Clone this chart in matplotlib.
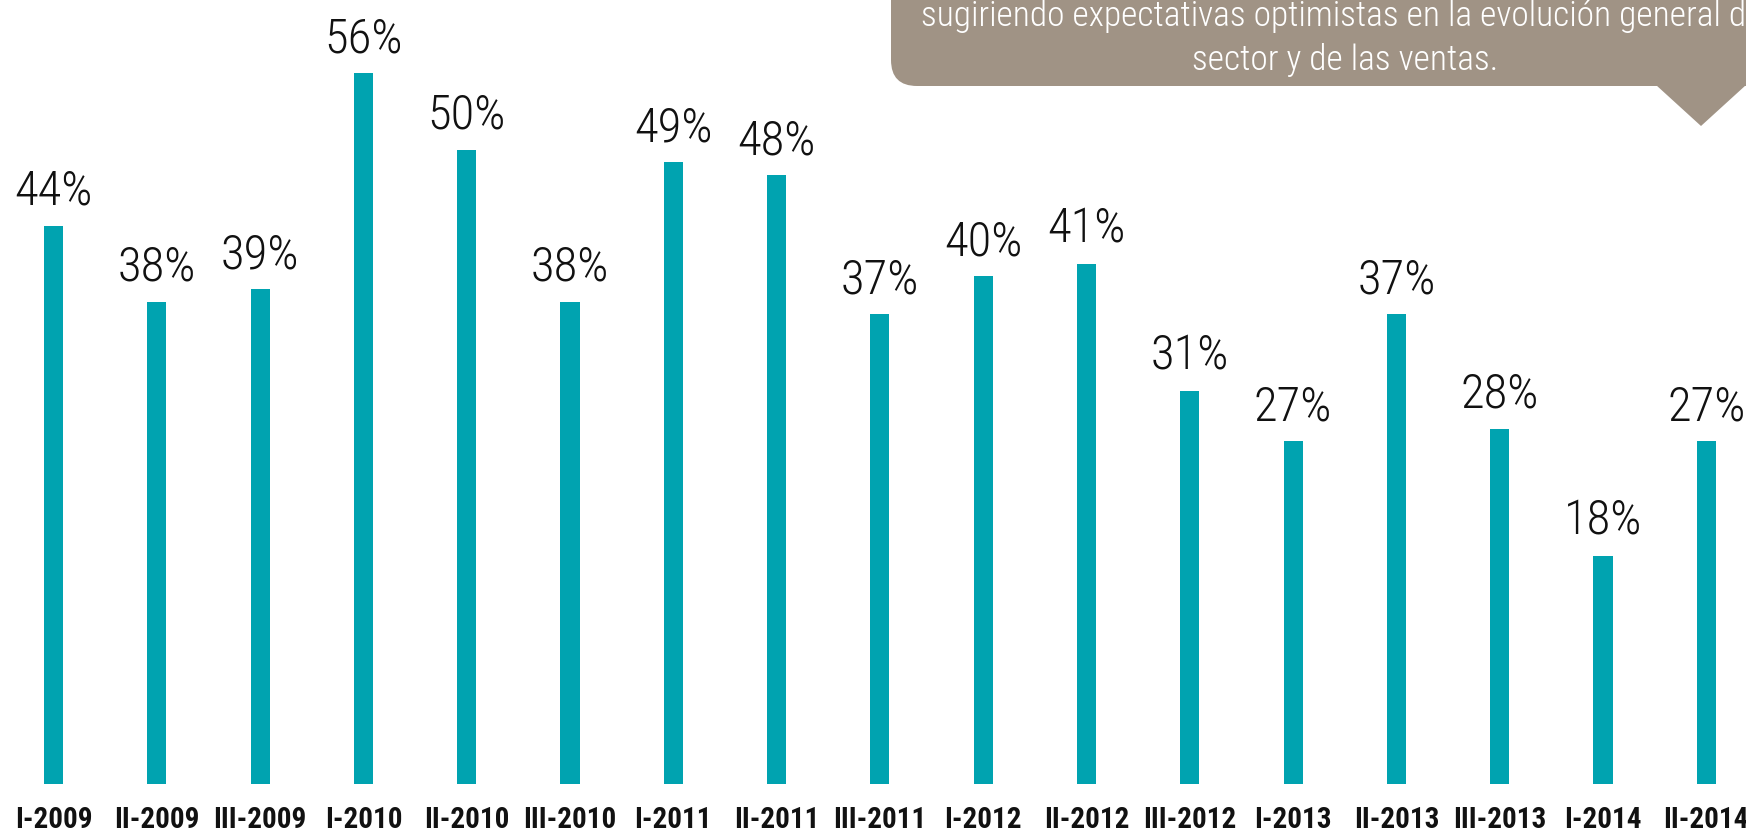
import matplotlib
matplotlib.use("Agg")
import matplotlib.pyplot as plt
from matplotlib.patches import FancyBboxPatch, Polygon
from matplotlib.transforms import IdentityTransform

# data
periods = ["I-2009", "II-2009", "III-2009", "I-2010", "II-2010", "III-2010",
           "I-2011", "II-2011", "III-2011", "I-2012", "II-2012", "III-2012",
           "I-2013", "II-2013", "III-2013", "I-2014", "II-2014"]
values = [44, 38, 39, 56, 50, 38, 49, 48, 37, 40, 41, 31, 27, 37, 28, 18, 27]
callout_lines = ["sugiriendo expectativas optimistas en la evolución general del",
                 "sector y de las ventas."]

plt.rcParams["font.family"] = ["Roboto Condensed", "DejaVu Sans"]

W, H = 1746, 833
fig = plt.figure(figsize=(W / 100, H / 100), dpi=100)
fig.patch.set_facecolor("white")

# axes: zero line at 49 px from bottom, 12.69 px per percent
ax = fig.add_axes([0, 49 / H, 1, 784 / H])
ax.set_xlim(-53.5 / 103.3, (W - 53.5) / 103.3)
ax.set_ylim(0, 784 / 12.69)
ax.axis("off")

x = list(range(len(values)))
ax.bar(x, values, width=0.184, color="#00A3B0")

for xi, v in zip(x, values):
    ax.annotate(f"{v}%", (xi, v), xytext=(0, 15), textcoords="offset points",
                ha="center", va="baseline", fontsize=35, fontweight="light",
                color="#111111", annotation_clip=False)

for xi, lab in zip(x, periods):
    ax.annotate(lab, (xi, 0), xytext=(0, -26), textcoords="offset points",
                ha="center", va="center", fontsize=21, fontweight="bold",
                color="#111111", annotation_clip=False)

# callout box (pixel coords, origin bottom-left)
box_col = "#A09385"
box = FancyBboxPatch((891, H - 86), 950, 200,
                     boxstyle="round,pad=0,rounding_size=26",
                     transform=IdentityTransform(), facecolor=box_col,
                     edgecolor="none")
fig.patches.append(box)
tri = Polygon([(1656, H - 86 + 1), (1746, H - 86 + 1), (1701, H - 126)],
              closed=True, transform=IdentityTransform(),
              facecolor=box_col, edgecolor="none")
fig.patches.append(tri)

fig.text(1345 / W, (H - 26) / H, callout_lines[0], ha="center", va="baseline",
         fontsize=25.5, fontweight="light", color="white")
fig.text(1345 / W, (H - 70) / H, callout_lines[1], ha="center", va="baseline",
         fontsize=25.5, fontweight="light", color="white")

fig.savefig("out.png", dpi=100)
